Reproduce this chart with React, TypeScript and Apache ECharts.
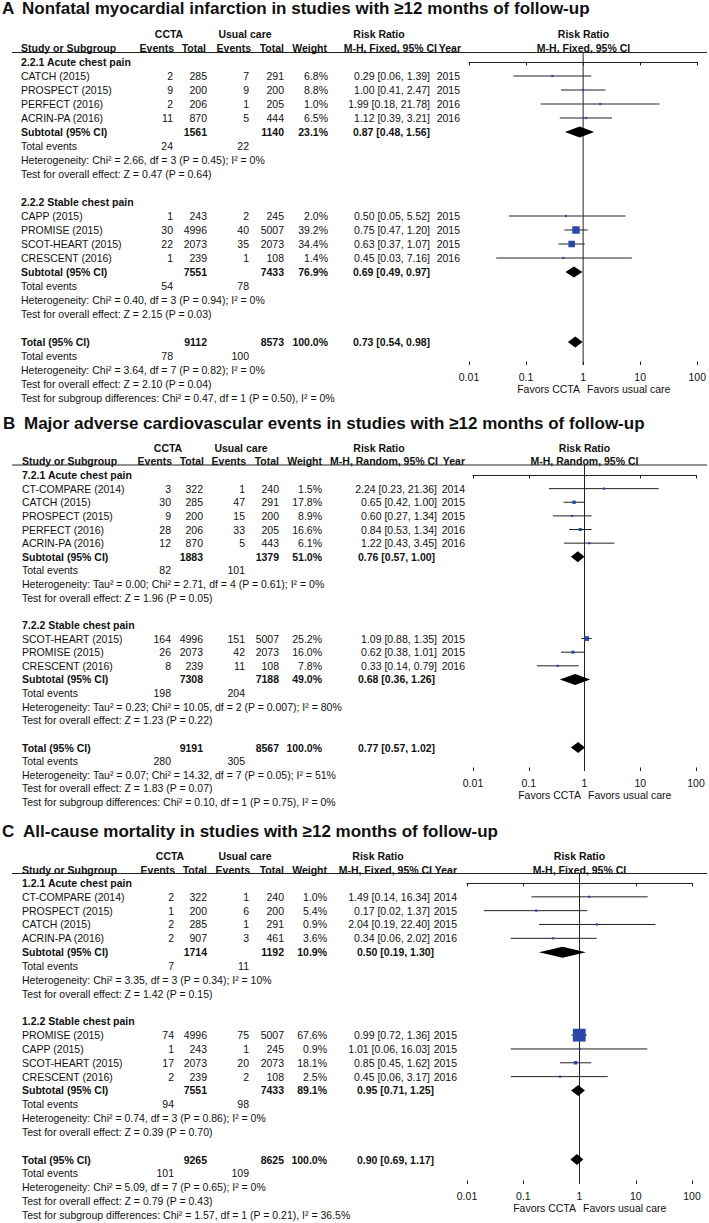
import React, { useEffect, useRef } from "react";
import * as echarts from "echarts";

type Study = [string, number, number, number, number, number, number, number, number, number];
// [study, CCTA events, CCTA total, usual-care events, usual-care total, weight %, RR, lower, upper, year]

// ---------------- Panel A ----------------
const A_TITLE = "Nonfatal myocardial infarction in studies with ≥12 months of follow-up";
const A_METHOD = "M-H, Fixed, 95% CI";
const A_G1_LABEL = "2.2.1 Acute chest pain";
const A_G1_STUDIES: Study[] = [
  ["CATCH (2015)", 2, 285, 7, 291, 6.8, 0.29, 0.06, 1.39, 2015],
  ["PROSPECT (2015)", 9, 200, 9, 200, 8.8, 1.0, 0.41, 2.47, 2015],
  ["PERFECT (2016)", 2, 206, 1, 205, 1.0, 1.99, 0.18, 21.78, 2016],
  ["ACRIN-PA (2016)", 11, 870, 5, 444, 6.5, 1.12, 0.39, 3.21, 2016],
];
const A_G1_SUBTOTAL = [1561, 1140, 23.1, 0.87, 0.48, 1.56];
const A_G1_EVENTS = [24, 22];
const A_G1_HET = "Heterogeneity: Chi² = 2.66, df = 3 (P = 0.45); I² = 0%";
const A_G1_TEST = "Test for overall effect: Z = 0.47 (P = 0.64)";
const A_G2_LABEL = "2.2.2 Stable chest pain";
const A_G2_STUDIES: Study[] = [
  ["CAPP (2015)", 1, 243, 2, 245, 2.0, 0.5, 0.05, 5.52, 2015],
  ["PROMISE (2015)", 30, 4996, 40, 5007, 39.2, 0.75, 0.47, 1.2, 2015],
  ["SCOT-HEART (2015)", 22, 2073, 35, 2073, 34.4, 0.63, 0.37, 1.07, 2015],
  ["CRESCENT (2016)", 1, 239, 1, 108, 1.4, 0.45, 0.03, 7.16, 2016],
];
const A_G2_SUBTOTAL = [7551, 7433, 76.9, 0.69, 0.49, 0.97];
const A_G2_EVENTS = [54, 78];
const A_G2_HET = "Heterogeneity: Chi² = 0.40, df = 3 (P = 0.94); I² = 0%";
const A_G2_TEST = "Test for overall effect: Z = 2.15 (P = 0.03)";
const A_TOTAL = [9112, 8573, 100.0, 0.73, 0.54, 0.98];
const A_TOTAL_EVENTS = [78, 100];
const A_TOTAL_HET = "Heterogeneity: Chi² = 3.64, df = 7 (P = 0.82); I² = 0%";
const A_TOTAL_TEST = "Test for overall effect: Z = 2.10 (P = 0.04)";
const A_SUBGROUP_TEST = "Test for subgroup differences: Chi² = 0.47, df = 1 (P = 0.50), I² = 0%";

// ---------------- Panel B ----------------
const B_TITLE = "Major adverse cardiovascular events in studies with ≥12 months of follow-up";
const B_METHOD = "M-H, Random, 95% CI";
const B_G1_LABEL = "7.2.1 Acute chest pain";
const B_G1_STUDIES: Study[] = [
  ["CT-COMPARE (2014)", 3, 322, 1, 240, 1.5, 2.24, 0.23, 21.36, 2014],
  ["CATCH (2015)", 30, 285, 47, 291, 17.8, 0.65, 0.42, 1.0, 2015],
  ["PROSPECT (2015)", 9, 200, 15, 200, 8.9, 0.6, 0.27, 1.34, 2015],
  ["PERFECT (2016)", 28, 206, 33, 205, 16.6, 0.84, 0.53, 1.34, 2016],
  ["ACRIN-PA (2016)", 12, 870, 5, 443, 6.1, 1.22, 0.43, 3.45, 2016],
];
const B_G1_SUBTOTAL = [1883, 1379, 51.0, 0.76, 0.57, 1.0];
const B_G1_EVENTS = [82, 101];
const B_G1_HET = "Heterogeneity: Tau² = 0.00; Chi² = 2.71, df = 4 (P = 0.61); I² = 0%";
const B_G1_TEST = "Test for overall effect: Z = 1.96 (P = 0.05)";
const B_G2_LABEL = "7.2.2 Stable chest pain";
const B_G2_STUDIES: Study[] = [
  ["SCOT-HEART (2015)", 164, 4996, 151, 5007, 25.2, 1.09, 0.88, 1.35, 2015],
  ["PROMISE (2015)", 26, 2073, 42, 2073, 16.0, 0.62, 0.38, 1.01, 2015],
  ["CRESCENT (2016)", 8, 239, 11, 108, 7.8, 0.33, 0.14, 0.79, 2016],
];
const B_G2_SUBTOTAL = [7308, 7188, 49.0, 0.68, 0.36, 1.26];
const B_G2_EVENTS = [198, 204];
const B_G2_HET = "Heterogeneity: Tau² = 0.23; Chi² = 10.05, df = 2 (P = 0.007); I² = 80%";
const B_G2_TEST = "Test for overall effect: Z = 1.23 (P = 0.22)";
const B_TOTAL = [9191, 8567, 100.0, 0.77, 0.57, 1.02];
const B_TOTAL_EVENTS = [280, 305];
const B_TOTAL_HET = "Heterogeneity: Tau² = 0.07; Chi² = 14.32, df = 7 (P = 0.05); I² = 51%";
const B_TOTAL_TEST = "Test for overall effect: Z = 1.83 (P = 0.07)";
const B_SUBGROUP_TEST = "Test for subgroup differences: Chi² = 0.10, df = 1 (P = 0.75), I² = 0%";

// ---------------- Panel C ----------------
const C_TITLE = "All-cause mortality in studies with ≥12 months of follow-up";
const C_METHOD = "M-H, Fixed, 95% CI";
const C_G1_LABEL = "1.2.1 Acute chest pain";
const C_G1_STUDIES: Study[] = [
  ["CT-COMPARE (2014)", 2, 322, 1, 240, 1.0, 1.49, 0.14, 16.34, 2014],
  ["PROSPECT (2015)", 1, 200, 6, 200, 5.4, 0.17, 0.02, 1.37, 2015],
  ["CATCH (2015)", 2, 285, 1, 291, 0.9, 2.04, 0.19, 22.4, 2015],
  ["ACRIN-PA (2016)", 2, 907, 3, 461, 3.6, 0.34, 0.06, 2.02, 2016],
];
const C_G1_SUBTOTAL = [1714, 1192, 10.9, 0.5, 0.19, 1.3];
const C_G1_EVENTS = [7, 11];
const C_G1_HET = "Heterogeneity: Chi² = 3.35, df = 3 (P = 0.34); I² = 10%";
const C_G1_TEST = "Test for overall effect: Z = 1.42 (P = 0.15)";
const C_G2_LABEL = "1.2.2 Stable chest pain";
const C_G2_STUDIES: Study[] = [
  ["PROMISE (2015)", 74, 4996, 75, 5007, 67.6, 0.99, 0.72, 1.36, 2015],
  ["CAPP (2015)", 1, 243, 1, 245, 0.9, 1.01, 0.06, 16.03, 2015],
  ["SCOT-HEART (2015)", 17, 2073, 20, 2073, 18.1, 0.85, 0.45, 1.62, 2015],
  ["CRESCENT (2016)", 2, 239, 2, 108, 2.5, 0.45, 0.06, 3.17, 2016],
];
const C_G2_SUBTOTAL = [7551, 7433, 89.1, 0.95, 0.71, 1.25];
const C_G2_EVENTS = [94, 98];
const C_G2_HET = "Heterogeneity: Chi² = 0.74, df = 3 (P = 0.86); I² = 0%";
const C_G2_TEST = "Test for overall effect: Z = 0.39 (P = 0.70)";
const C_TOTAL = [9265, 8625, 100.0, 0.9, 0.69, 1.17];
const C_TOTAL_EVENTS = [101, 109];
const C_TOTAL_HET = "Heterogeneity: Chi² = 5.09, df = 7 (P = 0.65); I² = 0%";
const C_TOTAL_TEST = "Test for overall effect: Z = 0.79 (P = 0.43)";
const C_SUBGROUP_TEST = "Test for subgroup differences: Chi² = 1.57, df = 1 (P = 0.21), I² = 36.5%";

const TICK_VALUES = [0.01, 0.1, 1, 10, 100];
const TICK_LABELS = ["0.01", "0.1", "1", "10", "100"];
const FAVORS_LEFT = "Favors CCTA";
const FAVORS_RIGHT = "Favors usual care";

// ---------------- Layout / style ----------------
const FONT = '"Liberation Sans", Arial, Helvetica, sans-serif';
const INK = "#111";
const LINE = "#222";
const BLUE = "#2b48a5";
const BODY = 10.5;
const TITLE_SIZE = 17;

const LAYOUTS = [
  {
    letter: "A", letterX: 2, titleX: 22, titleY: 8, head1Y: 34, head2Y: 47.5, lineY: 52.5,
    row0Y: 62, pitch: 14, axisY: 365, x0: 469, x1: 698,
    col: { name: 21, ev1: 173, tot1: 207, ev2: 249, tot2: 284, w: 328, ciR: 430, ciB: 353, yr: 460 },
    hdr: { ccta: 169, uc: 245, rr: 379, ev1: 174, tot1: 206, ev2: 251, tot2: 284, w: 327, mh: 437, yr: 461 },
  },
  {
    letter: "B", letterX: 3, titleX: 24, titleY: 423, head1Y: 448, head2Y: 461, lineY: 465,
    row0Y: 475, pitch: 13.63, axisY: 771, x0: 473, x1: 696,
    col: { name: 22, ev1: 171, tot1: 203, ev2: 245, tot2: 279, w: 322, ciR: 437, ciB: 358, yr: 465 },
    hdr: { ccta: 168, uc: 241, rr: 379, ev1: 172, tot1: 204, ev2: 246, tot2: 279, w: 322, mh: 438, yr: 465 },
  },
  {
    letter: "C", letterX: 2, titleX: 23, titleY: 831, head1Y: 856, head2Y: 870, lineY: 873.5,
    row0Y: 883, pitch: 13.83, axisY: 1184, x0: 467, x1: 692,
    col: { name: 22, ev1: 174, tot1: 207, ev2: 249, tot2: 284, w: 327, ciR: 430, ciB: 357, yr: 457 },
    hdr: { ccta: 170, uc: 245, rr: 378, ev1: 175, tot1: 207, ev2: 250, tot2: 284, w: 327, mh: 432, yr: 457 },
  },
];

const PANELS = [
  {
    title: A_TITLE, method: A_METHOD,
    groups: [
      { label: A_G1_LABEL, studies: A_G1_STUDIES, subtotal: A_G1_SUBTOTAL, events: A_G1_EVENTS, het: A_G1_HET, test: A_G1_TEST },
      { label: A_G2_LABEL, studies: A_G2_STUDIES, subtotal: A_G2_SUBTOTAL, events: A_G2_EVENTS, het: A_G2_HET, test: A_G2_TEST },
    ],
    total: A_TOTAL, totalEvents: A_TOTAL_EVENTS, totalHet: A_TOTAL_HET, totalTest: A_TOTAL_TEST, subgroupTest: A_SUBGROUP_TEST,
  },
  {
    title: B_TITLE, method: B_METHOD,
    groups: [
      { label: B_G1_LABEL, studies: B_G1_STUDIES, subtotal: B_G1_SUBTOTAL, events: B_G1_EVENTS, het: B_G1_HET, test: B_G1_TEST },
      { label: B_G2_LABEL, studies: B_G2_STUDIES, subtotal: B_G2_SUBTOTAL, events: B_G2_EVENTS, het: B_G2_HET, test: B_G2_TEST },
    ],
    total: B_TOTAL, totalEvents: B_TOTAL_EVENTS, totalHet: B_TOTAL_HET, totalTest: B_TOTAL_TEST, subgroupTest: B_SUBGROUP_TEST,
  },
  {
    title: C_TITLE, method: C_METHOD,
    groups: [
      { label: C_G1_LABEL, studies: C_G1_STUDIES, subtotal: C_G1_SUBTOTAL, events: C_G1_EVENTS, het: C_G1_HET, test: C_G1_TEST },
      { label: C_G2_LABEL, studies: C_G2_STUDIES, subtotal: C_G2_SUBTOTAL, events: C_G2_EVENTS, het: C_G2_HET, test: C_G2_TEST },
    ],
    total: C_TOTAL, totalEvents: C_TOTAL_EVENTS, totalHet: C_TOTAL_HET, totalTest: C_TOTAL_TEST, subgroupTest: C_SUBGROUP_TEST,
  },
];

function txt(s: string, x: number, y: number, align = "left", bold = false, size = BODY) {
  return {
    type: "text",
    silent: true,
    style: {
      text: s, x, y,
      align, textAlign: align,
      verticalAlign: "middle", textVerticalAlign: "middle",
      font: `${bold ? "bold " : ""}${size}px ${FONT}`,
      fill: INK,
    },
  };
}

const ci = (rr: number, lo: number, hi: number) => `${rr.toFixed(2)} [${lo.toFixed(2)}, ${hi.toFixed(2)}]`;

function buildRows(p: any) {
  const rows: any[] = [];
  let r = 0;
  for (const g of p.groups) {
    rows.push({ kind: "group", row: r++, text: g.label });
    for (const s of g.studies) rows.push({ kind: "study", row: r++, s });
    rows.push({ kind: "sum", row: r++, label: "Subtotal (95% CI)", v: g.subtotal });
    rows.push({ kind: "events", row: r++, v: g.events });
    rows.push({ kind: "note", row: r++, text: g.het });
    rows.push({ kind: "note", row: r++, text: g.test });
    r++;
  }
  rows.push({ kind: "sum", row: r++, label: "Total (95% CI)", v: p.total });
  rows.push({ kind: "events", row: r++, v: p.totalEvents });
  rows.push({ kind: "note", row: r++, text: p.totalHet });
  rows.push({ kind: "note", row: r++, text: p.totalTest });
  rows.push({ kind: "note", row: r++, text: p.subgroupTest });
  return rows;
}

function tickLabel(v: number) {
  const i = TICK_VALUES.findIndex((t) => Math.abs(Math.log10(t) - Math.log10(v)) < 1e-6);
  return i >= 0 ? TICK_LABELS[i] : "";
}

function buildOption() {
  const grids: any[] = [];
  const xAxes: any[] = [];
  const yAxes: any[] = [];
  const series: any[] = [];
  const graphics: any[] = [];

  PANELS.forEach((p, pi) => {
    const L = LAYOUTS[pi];
    const rows = buildRows(p);
    const yMin = (L.lineY - L.row0Y) / L.pitch;
    const yMax = (L.axisY - L.row0Y) / L.pitch;
    const xOne = (L.x0 + L.x1) / 2;

    grids.push({ left: L.x0, right: 709 - L.x1, top: L.lineY, bottom: 1223 - L.axisY, containLabel: false });
    const baseX = {
      type: "log", logBase: 10, min: 0.01, max: 100, gridIndex: pi, position: "bottom",
      splitLine: { show: false }, minorTick: { show: false },
    };
    xAxes.push({
      ...baseX,
      axisLine: { show: true, lineStyle: { color: LINE, width: 1 } },
      axisTick: { show: true, inside: false, length: 3.5, lineStyle: { color: LINE, width: 1 } },
      axisLabel: {
        show: true, margin: 6, color: INK, fontSize: BODY, fontFamily: FONT,
        showMinLabel: true, showMaxLabel: true, formatter: tickLabel,
      },
    });
    xAxes.push({
      ...baseX,
      axisLine: { show: false },
      axisTick: { show: true, inside: true, length: 3.5, lineStyle: { color: LINE, width: 1 } },
      axisLabel: { show: false },
    });
    yAxes.push({ type: "value", gridIndex: pi, inverse: true, min: yMin, max: yMax, show: false, splitLine: { show: false } });

    series.push({
      type: "line", xAxisIndex: pi * 2, yAxisIndex: pi, silent: true, z: 1,
      data: [[1, yMin], [1, yMax]], symbol: "none", lineStyle: { color: LINE, width: 1 },
    });

    series.push({
      type: "custom", xAxisIndex: pi * 2, yAxisIndex: pi, silent: true, z: 3, clip: false,
      data: rows.map((r) => [r.kind === "study" ? r.s[6] : r.kind === "sum" ? r.v[3] : 1, r.row]),
      renderItem: (params: any, api: any) => {
        const row = rows[params.dataIndex];
        const y = api.coord([1, row.row])[1];
        const c = L.col;
        const ch: any[] = [];
        if (row.kind === "group") {
          ch.push(txt(row.text, c.name, y, "left", true));
        } else if (row.kind === "study") {
          const [name, e1, t1, e2, t2, w, rr, lo, hi, yr] = row.s;
          ch.push(txt(name, c.name, y));
          ch.push(txt(String(e1), c.ev1, y, "right"));
          ch.push(txt(String(t1), c.tot1, y, "right"));
          ch.push(txt(String(e2), c.ev2, y, "right"));
          ch.push(txt(String(t2), c.tot2, y, "right"));
          ch.push(txt(`${w.toFixed(1)}%`, c.w, y, "right"));
          ch.push(txt(ci(rr, lo, hi), c.ciR, y, "right"));
          ch.push(txt(String(yr), c.yr, y, "right"));
          const xl = api.coord([lo, row.row])[0];
          const xh = api.coord([hi, row.row])[0];
          const xc = api.coord([rr, row.row])[0];
          ch.push({ type: "line", shape: { x1: xl, y1: y, x2: xh, y2: y }, style: { stroke: LINE, lineWidth: 1 } });
          const sz = Math.max(2.2, w * 0.19);
          ch.push({ type: "rect", shape: { x: xc - sz / 2, y: y - sz / 2, width: sz, height: sz }, style: { fill: BLUE } });
        } else if (row.kind === "sum") {
          const [t1, t2, w, rr, lo, hi] = row.v;
          ch.push(txt(row.label, c.name, y, "left", true));
          ch.push(txt(String(t1), c.tot1, y, "right", true));
          ch.push(txt(String(t2), c.tot2, y, "right", true));
          ch.push(txt(`${w.toFixed(1)}%`, c.w, y, "right", true));
          ch.push(txt(ci(rr, lo, hi), c.ciB, y, "left", true));
          const xl = api.coord([lo, row.row])[0];
          const xh = api.coord([hi, row.row])[0];
          const xc = api.coord([rr, row.row])[0];
          const h = 5.5;
          ch.push({
            type: "polygon",
            shape: { points: [[xl, y], [xc, y - h], [xh, y], [xc, y + h]] },
            style: { fill: "#000" },
          });
        } else if (row.kind === "events") {
          ch.push(txt("Total events", c.name, y));
          ch.push(txt(String(row.v[0]), c.ev1, y, "right"));
          ch.push(txt(String(row.v[1]), c.ev2, y, "right"));
        } else {
          ch.push(txt(row.text, c.name, y));
        }
        return { type: "group", children: ch };
      },
    });

    // Titles and headers
    const h = L.hdr;
    graphics.push(txt(L.letter, L.letterX, L.titleY, "left", true, TITLE_SIZE));
    graphics.push(txt(p.title, L.titleX, L.titleY, "left", true, TITLE_SIZE));
    graphics.push(txt("CCTA", h.ccta, L.head1Y, "center", true));
    graphics.push(txt("Usual care", h.uc, L.head1Y, "center", true));
    graphics.push(txt("Risk Ratio", h.rr, L.head1Y, "center", true));
    graphics.push(txt("Risk Ratio", xOne, L.head1Y, "center", true));
    graphics.push(txt("Study or Subgroup", L.col.name, L.head2Y, "left", true));
    graphics.push(txt("Events", h.ev1, L.head2Y, "right", true));
    graphics.push(txt("Total", h.tot1, L.head2Y, "right", true));
    graphics.push(txt("Events", h.ev2, L.head2Y, "right", true));
    graphics.push(txt("Total", h.tot2, L.head2Y, "right", true));
    graphics.push(txt("Weight", h.w, L.head2Y, "right", true));
    graphics.push(txt(p.method, h.mh, L.head2Y, "right", true));
    graphics.push(txt("Year", h.yr, L.head2Y, "right", true));
    graphics.push(txt(p.method, xOne, L.head2Y, "center", true));
    graphics.push({
      type: "line", silent: true,
      shape: { x1: 12, y1: L.lineY, x2: 707, y2: L.lineY },
      style: { stroke: LINE, lineWidth: 1 },
    });
    graphics.push(txt(FAVORS_LEFT, xOne - 3.5, L.axisY + 24, "right"));
    graphics.push(txt(FAVORS_RIGHT, xOne + 3.5, L.axisY + 24, "left"));
  });

  return {
    animation: false,
    backgroundColor: "#fff",
    grid: grids,
    xAxis: xAxes,
    yAxis: yAxes,
    series,
    graphic: { elements: graphics },
  };
}

export default function App() {
  const ref = useRef<HTMLDivElement>(null);
  useEffect(() => {
    if (!ref.current) return;
    const chart = echarts.init(ref.current, null, { renderer: "svg" });
    chart.setOption(buildOption() as any);
    return () => chart.dispose();
  }, []);
  return <div ref={ref} style={{ position: "absolute", left: 0, top: 0, width: 709, height: 1223, background: "#fff" }} />;
}
